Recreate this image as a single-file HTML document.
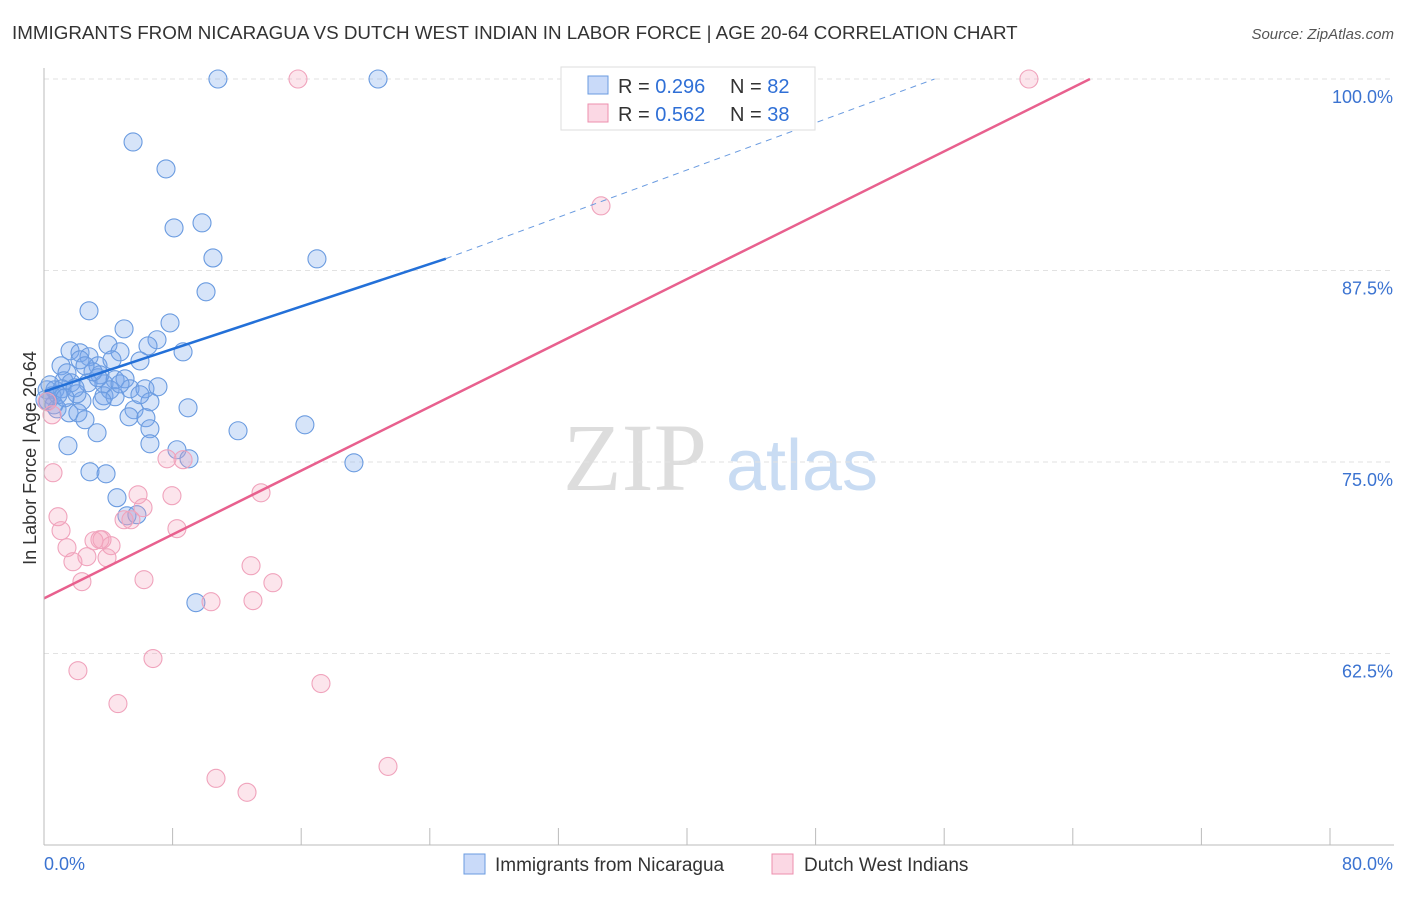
<!DOCTYPE html>
<html><head><meta charset="utf-8"><style>
body{margin:0;background:#fff;font-family:"Liberation Sans",sans-serif;}
#wrap{position:relative;width:1406px;height:892px;}
</style></head><body><div id="wrap">
<svg id="svg" width="1406" height="892" xmlns="http://www.w3.org/2000/svg" font-family="Liberation Sans, sans-serif">
<text x="12" y="39" font-size="18.8" fill="#333">IMMIGRANTS FROM NICARAGUA VS DUTCH WEST INDIAN IN LABOR FORCE | AGE 20-64 CORRELATION CHART</text>
<text x="1394" y="39" font-size="15" fill="#555" text-anchor="end" font-style="italic">Source: ZipAtlas.com</text>
<text x="36" y="458" font-size="18" fill="#333" text-anchor="middle" transform="rotate(-90 36 458)">In Labor Force | Age 20-64</text>
<g><text x="635" y="490" font-size="96" fill="#ddd" font-family="Liberation Serif, serif" text-anchor="middle">ZIP</text><text x="802" y="490" font-size="72" fill="#c9dcf3" text-anchor="middle">atlas</text></g>
<g id="grid"></g><g id="marks"></g><g id="axes"></g>
<g>
<rect x="561" y="67" width="254" height="63" fill="#fff" stroke="#ddd"/>
<rect x="588" y="76" width="20" height="18" fill="rgba(100,149,237,0.35)" stroke="#6a9be0"/>
<text x="618" y="93" font-size="20" fill="#333">R = <tspan fill="#2f6fd6">0.296</tspan></text>
<text x="730" y="93" font-size="20" fill="#333">N = <tspan fill="#2f6fd6">82</tspan></text>
<rect x="588" y="104" width="20" height="18" fill="rgba(244,143,177,0.35)" stroke="#ec8fae"/>
<text x="618" y="121" font-size="20" fill="#333">R = <tspan fill="#2f6fd6">0.562</tspan></text>
<text x="730" y="121" font-size="20" fill="#333">N = <tspan fill="#2f6fd6">38</tspan></text>
</g>
<g>
<rect x="464" y="854" width="21" height="20" fill="rgba(100,149,237,0.35)" stroke="#6a9be0"/>
<text x="495" y="871" font-size="19" fill="#333">Immigrants from Nicaragua</text>
<rect x="772" y="854" width="21" height="20" fill="rgba(244,143,177,0.35)" stroke="#ec8fae"/>
<text x="804" y="871" font-size="19" fill="#333">Dutch West Indians</text>
</g>
</svg>
<script>
const blueX=[10.82,20.78,5.54,7.59,8.09,9.83,10.51,16.98,10.08,2.80,4.98,7.84,7.03,6.47,8.65,1.62,2.24,2.80,3.98,4.73,5.97,1.06,2.24,3.36,1.43,1.24,1.68,3.48,4.42,5.04,2.74,3.73,0.68,1.12,0.19,0.50,0.25,0.62,0.81,2.36,2.05,3.73,5.35,6.28,7.09,6.59,5.60,5.29,6.34,1.56,2.11,2.55,8.96,3.30,6.59,6.59,1.49,12.07,16.23,8.27,9.02,2.86,3.86,19.28,4.54,5.16,5.78,9.45,4.11,4.42,4.73,3.36,0.37,0.87,0.06,1.93,3.05,4.23,2.55,1.31,5.97,3.61];
const blueY=[100,100,95.89,94.13,90.28,90.61,88.32,88.26,86.11,84.87,83.69,84.08,82.98,82.58,82.19,82.26,82.13,81.87,82.65,82.19,81.60,81.28,81.67,81.28,80.82,80.30,80.17,80.69,80.37,80.43,80.17,80.10,79.71,79.78,79.71,79.32,78.99,78.73,78.47,78.99,79.45,79.32,79.78,79.78,79.91,78.93,78.41,77.95,77.89,78.21,78.21,77.76,78.54,76.91,77.17,76.19,76.06,77.04,77.43,75.80,75.21,74.36,74.23,74.95,72.67,71.49,71.56,65.82,79.71,79.26,80.10,80.50,80.04,79.39,79.06,79.84,80.89,81.67,81.28,79.19,79.39,78.99];
const pinkX=[15.80,61.27,34.65,0.50,0.56,0.87,1.06,1.43,1.80,2.36,2.67,3.11,3.61,4.17,3.92,4.98,5.41,5.85,6.16,6.22,7.65,8.65,7.96,8.27,13.50,12.88,14.24,10.39,13.00,6.78,2.11,4.60,17.23,10.70,12.63,21.40,0.19,3.48];
const pinkY=[100,100,91.72,78.08,74.30,71.43,70.52,69.41,68.49,67.19,68.82,69.86,69.93,69.54,68.75,71.23,71.23,72.86,72.02,67.32,75.21,75.15,72.80,70.65,72.99,68.23,67.12,65.88,65.95,62.17,61.38,59.23,60.54,54.35,53.44,55.13,78.93,69.93];
const blueTrend=[79.6,0.347,25];
const blueDashEnd=[55.4,100];
const pinkTrend=[66.1,0.521];
const yTicks=[100,87.5,75,62.5];
const yTickLabels=["100.0%","87.5%","75.0%","62.5%"];
const xTicks=[0,8,16,24,32,40,48,56,64,72,80];
const NS="http://www.w3.org/2000/svg";
const X=v=>44+v/80*1286, Y=v=>79+(100-v)/50*766;
function mk(t,a,p){const e=document.createElementNS(NS,t);for(const k in a)e.setAttribute(k,a[k]);p.appendChild(e);return e;}
const grid=document.getElementById('grid'),marks=document.getElementById('marks'),axes=document.getElementById('axes');
yTicks.forEach((t,i)=>{
 const l=mk('line',{x1:44,x2:1394,y1:Y(t),y2:Y(t),stroke:'#e2e2e2','stroke-dasharray':'5,4'},grid);
 
 
 const tx=mk('text',{x:1393,y:Y(t)+24,'font-size':18,fill:'#3b73d1','text-anchor':'end'},axes);tx.textContent=yTickLabels[i];
 
 
});
const ax=mk('line',{x1:44,x2:1394,y1:845,y2:845,stroke:'#bbb'},axes);


const ay=mk('line',{x1:44,x2:44,y1:68,y2:845,stroke:'#bbb'},axes);


xTicks.forEach(t=>{const l=mk('line',{x1:X(t),x2:X(t),y1:828,y2:845,stroke:'#bbb'},axes);
 
 });
const x0=mk('text',{x:44,y:870,'font-size':18,fill:'#3b73d1'},axes);x0.textContent='0.0%';


const x1=mk('text',{x:1393,y:870,'font-size':18,fill:'#3b73d1','text-anchor':'end'},axes);x1.textContent='80.0%';


blueX.forEach((v,i)=>{const c=mk('circle',{cx:X(v),cy:Y(blueY[i]),r:9,fill:'rgba(120,165,235,0.3)',stroke:'#6a9be0','stroke-width':1.1},marks);
 
 });
pinkX.forEach((v,i)=>{const c=mk('circle',{cx:X(v),cy:Y(pinkY[i]),r:9,fill:'rgba(244,160,188,0.28)',stroke:'#f0a3bc','stroke-width':1.1},marks);
 
 });
const bl=mk('line',{x1:X(0),y1:Y(blueTrend[0]),x2:X(blueTrend[2]),y2:Y(blueTrend[0]+blueTrend[1]*blueTrend[2]),stroke:'#2370d8','stroke-width':2.5},marks);


const bd=mk('line',{x1:X(blueTrend[2]),y1:Y(blueTrend[0]+blueTrend[1]*blueTrend[2]),x2:X(blueDashEnd[0]),y2:Y(blueDashEnd[1]),stroke:'#6a9be0','stroke-width':1,'stroke-dasharray':'6,5'},marks);


const pEnd=(100-pinkTrend[0])/pinkTrend[1];
const pl=mk('line',{x1:X(0),y1:Y(pinkTrend[0]),x2:X(pEnd),y2:Y(100),stroke:'#e8608e','stroke-width':2.5},marks);


</script>
</div></body></html>
